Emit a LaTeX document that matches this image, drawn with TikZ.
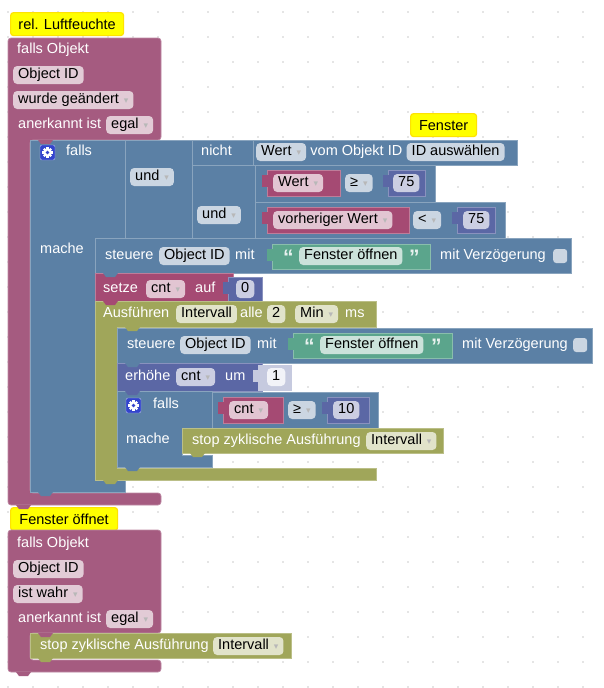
\documentclass[tikz,border=0pt]{standalone}
\usepackage{fontspec}
\setmainfont{Liberation Sans}
\newfontfamily\ddfont{DejaVu Sans}
\usetikzlibrary{positioning}
\definecolor{trig}{RGB}{165,91,128}
\definecolor{vari}{RGB}{165,74,115}
\definecolor{ctrl}{RGB}{91,128,165}
\definecolor{txtg}{RGB}{91,165,140}
\definecolor{olive}{RGB}{160,166,90}
\definecolor{mathb}{RGB}{91,103,165}
\definecolor{note}{RGB}{255,255,0}
\definecolor{gearb}{RGB}{51,68,204}
\newcommand{\fsize}{\fontsize{14.5}{16}\selectfont}
\newcommand{\dd}{\hspace{5pt}{\ddfont\fontsize{9}{9}\selectfont\textcolor{black!28}{▾}}\hspace{1pt}}
\newcommand{\vtab}[3]{\fill[#1] ({#2-5},{#3+5}) rectangle ({#2+1},{#3+17});}
\newcommand{\notch}[3]{\fill[#1] ({#2+8},#3) -- ++(3,4) -- ++(9,0) -- ++(3,-4) -- cycle;}
\tikzset{
  every node/.style={font=\fsize},
  blk/.style={fill=#1,draw=#1!72!white,line width=0.7pt},
  blk/.default=ctrl,
  pill/.style={fill=#1!32!white,text=black,rounded corners=4pt,anchor=west,
    inner xsep=5pt,inner ysep=0pt,minimum height=18pt,text height=10.5pt,text depth=3pt},
  pill/.default=ctrl,
  lbl/.style={text=white,anchor=west,inner sep=0pt,text height=10.5pt,text depth=3pt},
  quote/.style={text=white!85!txtg,anchor=base west,inner sep=0pt,
    font=\fontsize{21}{21}\selectfont\bfseries},
  chk/.style={fill=ctrl!32!white,rounded corners=3pt,anchor=west,minimum size=14pt,inner sep=0pt},
  note/.style={fill=note,draw=yellow!85!orange,line width=1.2pt,rounded corners=3pt,
    anchor=north west,minimum height=23pt,inner sep=0pt},
  % pictograms
  pics/gear/.style={code={
    \fill[gearb,draw=white!65!gearb,rounded corners=2pt] (-7.5,-7.5) rectangle (7.5,7.5);
    \foreach \a in {0,45,...,315} \fill[white,rotate=\a] (-1.2,0) rectangle (1.2,5.3);
    \fill[white] (0,0) circle (4);
    \fill[gearb] (0,0) circle (1.8);
  }},
}
\begin{document}
\begin{tikzpicture}[x=1pt,y=-1pt]
  \fill[white] (0,0) rectangle (604,688);
  \useasboundingbox (0,0) rectangle (604,688);
  \foreach \x in {8,33,...,583}
    \foreach \y in {12,37,...,687}
      \fill[gray!40] (\x,\y) circle (0.9);

  % trigger rel. Luftfeuchte
  \node[note,minimum width=113pt] (c1) at (10,12) {rel. Luftfeuchte};
  \draw[blk=trig,rounded corners=3pt] (8,38) -- (161,38) -- (161,140) -- (30,140) -- (30,493)
    -- (161,493) -- (161,505) -- (8,505) -- cycle;
  \node[lbl] (t1if) at (17,50) {falls Objekt};
  \node[pill=trig] (t1oid) at (13,75) {Object ID};
  \node[pill=trig] (t1chg) at (13,100) {wurde geändert\dd};
  \node[lbl] (t1ack) at (18,125) {anerkannt ist};
  \node[pill=trig] (t1egal) at (106,125) {egal\dd};

  % falls
  \draw[blk] (30,140) -- (125,140) -- (125,238) -- (95,238) -- (95,480) -- (125,480)
    -- (125,492) -- (30,492) -- cycle;
  \pic at (47.5,152.5) {gear};
  \node[lbl] (if1) at (66,152) {falls};
  \node[lbl] (do1) at (40,250) {mache};
  \draw[blk] (125,140) rectangle (192,238);
  \node[pill] (und1) at (130,177) {und\dd};
  \draw[blk] (192,140) rectangle (253,165);
  \node[lbl] (not1) at (201,152) {nicht};
  \draw[blk] (253,140) rectangle (517,165);
  \node[pill] (val1) at (256,152) {Wert\dd};
  \node[lbl,right=4pt of val1] (val1t) {vom Objekt ID};
  \node[pill,right=4pt of val1t] (sel1) {ID auswählen};
  \draw[blk] (192,165) rectangle (255,238);
  \node[pill] (und2) at (197,215) {und\dd};
  \draw[blk] (255,165) rectangle (435,202);
  \draw[blk=vari] (267,170) rectangle (340,196); \vtab{vari}{267}{170}
  \node[pill=vari] (wert1) at (273,183) {Wert\dd};
  \node[pill] (ge1) at (345,183) {≥\dd};
  \draw[blk=mathb] (388,170) rectangle (425,196); \vtab{mathb}{388}{170}
  \node[pill=mathb] (n75a) at (393,183) {75};
  \draw[blk] (255,202) rectangle (505,238);
  \draw[blk=vari] (267,207) rectangle (409,233); \vtab{vari}{267}{207}
  \node[pill=vari] (prev1) at (273,220) {vorheriger Wert\dd};
  \node[pill] (lt1) at (413,220) {<\dd};
  \draw[blk=mathb] (457,207) rectangle (495,233); \vtab{mathb}{457}{207}
  \node[pill=mathb] (n75b) at (463,220) {75};
  \node[note,minimum width=66pt] (c2) at (410,113) {Fenster};

  % mache
  \draw[blk] (95,238) rectangle (571,273);
  \node[lbl] (ctl1) at (105,256) {steuere};
  \node[pill] (ctl1id) at (159,256) {Object ID};
  \node[lbl] (ctl1mit) at (235,256) {mit};
  \draw[blk=txtg] (272,244) rectangle (430,269); \vtab{txtg}{272}{244}
  \node[quote] (q1a) at (283,264) {“};
  \node[pill=txtg] (str1) at (299,256) {Fenster öffnen};
  \node[quote] (q1b) at (409,264) {”};
  \node[lbl] (dly1) at (440,256) {mit Verzögerung};
  \node[chk] (chk1) at (553,256) {};
  \draw[blk=vari] (95,273) rectangle (233,301);
  \node[lbl] (setv) at (103,289) {setze};
  \node[pill=vari] (cnt1) at (146,289) {cnt\dd};
  \node[lbl] (auf) at (195,289) {auf};
  \draw[blk=mathb] (228,277) rectangle (262,301); \vtab{mathb}{228}{277}
  \node[pill=mathb] (n0) at (236,289) {0};

  % Ausfuehren
  \draw[blk=olive] (95,301) -- (376,301) -- (376,327) -- (117,327) -- (117,468) -- (376,468)
    -- (376,480) -- (95,480) -- cycle;
  \node[lbl] (run) at (103,314) {Ausführen};
  \node[pill=olive] (intv1) at (176,314) {Intervall};
  \node[lbl] (alle) at (240,314) {alle};
  \node[pill=olive] (two) at (267,314) {2};
  \node[pill=olive] (mins) at (295,314) {Min\dd};
  \node[lbl] (ms) at (345,314) {ms};
  \draw[blk] (117,328) rectangle (592,363);
  \node[lbl] (ctl2) at (127,345) {steuere};
  \node[pill] (ctl2id) at (180,345) {Object ID};
  \node[lbl] (ctl2mit) at (257,345) {mit};
  \draw[blk=txtg] (293,333) rectangle (452,358); \vtab{txtg}{293}{333}
  \node[quote] (q2a) at (304,353) {“};
  \node[pill=txtg] (str2) at (320,345) {Fenster öffnen};
  \node[quote] (q2b) at (431,353) {”};
  \node[lbl] (dly2) at (462,345) {mit Verzögerung};
  \node[chk] (chk2) at (573,345) {};
  \draw[blk=mathb] (117,363) rectangle (262,391);
  \node[lbl] (inc) at (125,377) {erhöhe};
  \node[pill=mathb] (cnt2) at (176,377) {cnt\dd};
  \node[lbl] (um) at (225,377) {um};
  \fill[mathb!35!white] (258,365) rectangle (292,391); \vtab{mathb!35!white}{258}{365}
  \node[pill=mathb!25!white] (n1) at (267,377) {1};

  % falls cnt
  \draw[blk] (117,391) -- (212,391) -- (212,428) -- (182,428) -- (182,455) -- (212,455)
    -- (212,467) -- (117,467) -- cycle;
  \pic at (133.5,405.5) {gear};
  \node[lbl] (if2) at (153,405) {falls};
  \node[lbl] (do2) at (126,440) {mache};
  \draw[blk] (212,392) rectangle (378,428);
  \draw[blk=vari] (223,397) rectangle (283,423); \vtab{vari}{223}{397}
  \node[pill=vari] (cnt3) at (229,410) {cnt\dd};
  \node[pill] (ge2) at (288,410) {≥\dd};
  \draw[blk=mathb] (327,397) rectangle (369,423); \vtab{mathb}{327}{397}
  \node[pill=mathb] (n10) at (333,410) {10};
  \draw[blk=olive] (182,428) rectangle (443,453);
  \node[lbl] (stop1) at (192,441) {stop zyklische Ausführung};
  \node[pill=olive] (intv2) at (366,441) {Intervall\dd};

  % trigger Fenster oeffnet
  \node[note,minimum width=107pt] (c3) at (10,507) {Fenster öffnet};
  \draw[blk=trig,rounded corners=3pt] (8,530) -- (161,530) -- (161,633) -- (30,633) -- (30,660)
    -- (161,660) -- (161,672) -- (8,672) -- cycle;
  \node[lbl] (t2if) at (17,544) {falls Objekt};
  \node[pill=trig] (t2oid) at (13,569) {Object ID};
  \node[pill=trig] (t2true) at (13,594) {ist wahr\dd};
  \node[lbl] (t2ack) at (18,619) {anerkannt ist};
  \node[pill=trig] (t2egal) at (106,619) {egal\dd};
  \draw[blk=olive] (30,633) rectangle (291,658);
  \node[lbl] (stop2) at (40,646) {stop zyklische Ausführung};
  \node[pill=olive] (intv3) at (213,646) {Intervall\dd};

  \foreach \c/\x/\y in {trig/30/140,ctrl/95/273,vari/95/301,olive/117/327,ctrl/117/363,
      mathb/117/391,olive/182/453,ctrl/117/467,olive/95/480,ctrl/30/492,trig/8/505,
      trig/30/633,olive/30/658,trig/8/672}
    {\notch{\c}{\x}{\y}}
\end{tikzpicture}
\end{document}
